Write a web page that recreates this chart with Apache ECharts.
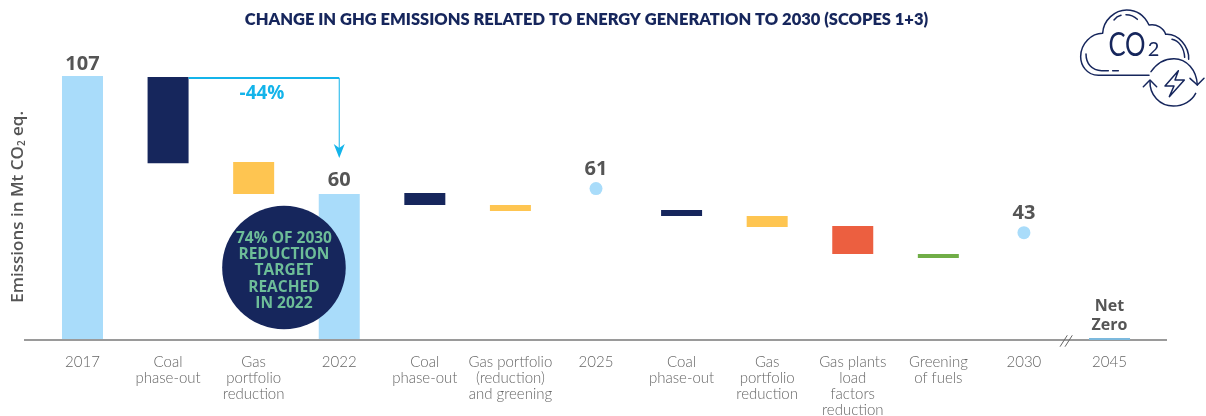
<!DOCTYPE html>
<html><head><meta charset="utf-8">
<style>html,body{margin:0;padding:0;background:#fff}#c{width:1206px;height:416px}</style>
<script src="https://cdn.jsdelivr.net/npm/echarts@6/dist/echarts.min.js"></script>
</head><body><div id="c"></div>
<script>
const categories = ['2017','Coal\nphase-out','Gas\nportfolio\nreduction','2022','Coal\nphase-out','Gas portfolio\n(reduction)\nand greening','2025','Coal\nphase-out','Gas\nportfolio\nreduction','Gas plants\nload\nfactors\nreduction','Greening\nof fuels','2030','2045'];
const segBase = [0, 71.7, 59.2, 0, 54.7, 52.3, null, 50.3, 45.8, 34.9, 33.2, null, 0];
const segTop  = [107, 106.6, 72.2, 59.2, 59.6, 54.7, null, 52.7, 50.3, 46.2, 34.9, null, 0.8];
const dotValues = [null,null,null,null,null,null,61.4,null,null,null,null,43.5,null];
const topLabels = ['107','','','60','','','61','','','','','43','Net\nZero'];
const segColors = ['#a9dcfa','#16265c','#fec551','#a9dcfa','#16265c','#fec551',null,'#16265c','#fec551','#ec5f40','#70ad47',null,'#7cb9dd'];
const callout = '-44%';
const badgeLines = ['74% OF 2030','REDUCTION','TARGET','REACHED','IN 2022'];
const TITLE = 'CHANGE IN GHG EMISSIONS RELATED TO ENERGY GENERATION TO 2030 (SCOPES 1+3)';
const FONT = 'Lato', HEAD = 'Open Sans';
const chart = echarts.init(document.getElementById('c'), null, {renderer:'canvas'});
const NAVY = '#16265c', CYAN = '#14b4ea';
const labelStyle = {fontFamily:HEAD, fontWeight:700, fontSize:20, color:'#555'};
chart.setOption({
  animation:false,
  backgroundColor:'#fff',
  title:{text:TITLE,left:581.5,top:6,textAlign:'center',textStyle:{fontFamily:FONT,fontWeight:800,fontSize:16.5,color:NAVY}},
  grid:{left:39.7,right:53.7,top:73.6,bottom:76,outerBoundsMode:'none',containLabel:false},
  xAxis:{type:'category',data:categories,axisTick:{show:false},axisLine:{show:false},
    axisLabel:{interval:0,margin:14,fontFamily:FONT,fontWeight:300,fontSize:15,lineHeight:16,color:'#666',verticalAlign:'top'}},
  yAxis:{type:'value',min:0,max:108,splitLine:{show:false},axisLabel:{show:false},axisTick:{show:false},axisLine:{show:false},
    name:'Emissions in Mt CO{s|2} eq.',nameLocation:'middle',nameGap:13,nameRotate:90,
    nameTextStyle:{fontFamily:HEAD,fontWeight:600,fontSize:17,color:'#555',rich:{s:{fontSize:10,verticalAlign:'bottom',color:'#555',fontFamily:HEAD,padding:[6,0,0,0]}}}},
  series:[
    {type:'bar',stack:'w',barWidth:41,silent:true,itemStyle:{color:'transparent'},data:segBase},
    {type:'bar',stack:'w',barWidth:41,data:segTop.map((v,i)=>v==null?null:({value:v-segBase[i],itemStyle:{color:segColors[i]},
       label:i===12?{fontSize:16,lineHeight:19,distance:3}:(i===3?{distance:4}:{})})),
     label:{show:true,position:'top',distance:2,...labelStyle,formatter:p=>topLabels[p.dataIndex]}},
    {type:'scatter',symbol:'circle',symbolSize:13,itemStyle:{color:'#a9dcfa',opacity:1},data:dotValues,
     label:{show:true,position:'top',distance:3,...labelStyle,formatter:p=>topLabels[p.dataIndex]}}
  ]
});
const px = (i,v)=>chart.convertToPixel({xAxisIndex:0,yAxisIndex:0},[i,v]);
const base = px(0,0)[1];
const startCoal = px(1,segTop[1]), end22 = px(3,segTop[3]);
const ax = startCoal[0]+20.5, ay = startCoal[1]+1, bx = end22[0], tipY = end22[1]-36;
const bx0 = px(2,0)[0], bx1 = px(3,0)[0];
const s = 1/3;
const iconPaths = [
 'M297 226 L145 226 C110 226 92 195 92 170 C92 130 125 100 158 100 C160 60 195 30 230 30 C262 30 285 50 297 75 C320 70 342 85 347 103 C385 100 418 140 416 178',
 'M108 162 C108 190 125 212 155 212 L175 212 M188 212 L205 212',
 'M192 60 C198 52 205 48 213 46 M228 44 C240 44 252 48 262 58',
 'M366 118 C385 122 402 140 404 172',
 'M303 215 C320 190 345 176 372 176 C410 176 440 210 442 255',
 'M420 235 L442 255 L462 235',
 'M300 242 C298 285 330 318 370 318 C400 318 425 303 437 280',
 'M280 260 L300 240 L320 260',
 'M385 212 L345 258 L372 258 L358 290 L403 240 L375 240 Z'
];
iconPaths.forEach((d,i)=>echarts.graphic.registerShape('icon'+i, echarts.graphic.extendPath(d,{})));
const g = [
 {type:'line',z:5,shape:{x1:24,y1:base,x2:1167,y2:base},style:{stroke:'#9a9a9a',lineWidth:2}},
 {type:'rect',z:6,shape:{x:px(12,0)[0]-20.5,y:base-2,width:41,height:2},style:{fill:segColors[12]}},
 {type:'line',z:7,shape:{x1:1060,y1:346.7,x2:1067.3,y2:335.3},style:{stroke:'#666',lineWidth:1}},
 {type:'line',z:7,shape:{x1:1065,y1:346.7,x2:1072.3,y2:335.3},style:{stroke:'#666',lineWidth:1}},
 {type:'line',z:7,shape:{x1:ax,y1:ay,x2:bx,y2:ay},style:{stroke:CYAN,lineWidth:2}},
 {type:'line',z:7,shape:{x1:bx,y1:ay,x2:bx,y2:tipY-8},style:{stroke:CYAN,lineWidth:1}},
 {type:'polygon',z:7,shape:{points:[[bx-5.5,tipY-14],[bx,tipY],[bx+5.5,tipY-14],[bx,tipY-10]]},style:{fill:CYAN}},
 {type:'text',z:7,x:262,y:94,style:{text:callout,fill:CYAN,font:'700 19px "Open Sans"',textAlign:'center',textVerticalAlign:'middle'}},
 {type:'circle',z:8,shape:{cx:(bx0+bx1)/2-12.5,cy:267.5,r:61.8},style:{fill:NAVY}},
 ...badgeLines.map((t,i)=>({type:'text',z:9,x:(bx0+bx1)/2-12.5,y:238.5+i*16.2,style:{text:t,fill:'#6dbd98',font:'700 15.5px "Open Sans"',textAlign:'center',textVerticalAlign:'middle'}})),
 {type:'group',x:1050,y:0,scaleX:s,scaleY:s,z:10,children:iconPaths.map((d,i)=>({type:'icon'+i,shape:{},style:{fill:null,stroke:NAVY,lineWidth:4.5,lineJoin:'round',lineCap:'round'}}))},
 {type:'text',z:10,x:1127,y:46,scaleX:0.8,style:{text:'CO',fill:NAVY,font:'400 32px Lato',textAlign:'center',textVerticalAlign:'middle'}},
 {type:'text',z:10,x:1153.5,y:50,style:{text:'2',fill:NAVY,font:'400 20px Lato',textAlign:'center',textVerticalAlign:'middle'}}
];
chart.setOption({graphic:g});
</script></body></html>
